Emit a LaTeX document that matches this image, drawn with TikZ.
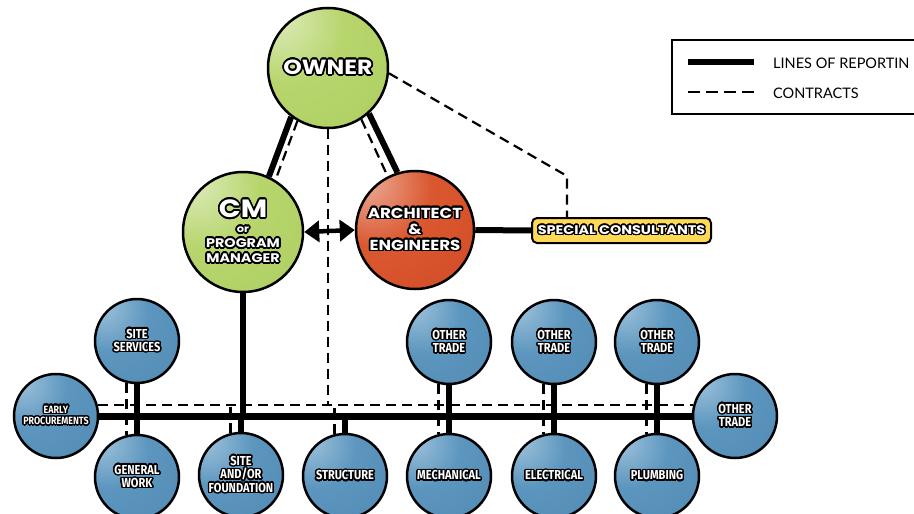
\documentclass[tikz,border=0pt]{standalone}
\usepackage{fontspec}
\setmainfont{Lato}
\newfontfamily\bigfont[FakeStretch=1.15]{Poppins}
\newfontfamily\tradefont[FakeStretch=0.85]{Fira Sans}
\usepackage{contour}
\contournumber{24}
\usetikzlibrary{arrows.meta}
\pgfdeclarelayer{bg}
\pgfsetlayers{bg,main}
\definecolor{gHi}{RGB}{222,236,190}
\definecolor{gBase}{RGB}{183,213,108}
\definecolor{gEdge}{RGB}{170,204,94}
\definecolor{oHi}{RGB}{236,175,155}
\definecolor{oBase}{RGB}{218,88,48}
\definecolor{oEdge}{RGB}{206,70,34}
\definecolor{bHi}{RGB}{160,195,220}
\definecolor{bBase}{RGB}{92,150,190}
\definecolor{bEdge}{RGB}{78,133,176}
\definecolor{yFill}{RGB}{255,217,84}
\pgfdeclareradialshading{gball}{\pgfpoint{-22bp}{22bp}}{color(0bp)=(gHi); color(24bp)=(gBase); color(65bp)=(gEdge); color(110bp)=(gEdge)}
\pgfdeclareradialshading{oball}{\pgfpoint{-22bp}{22bp}}{color(0bp)=(oHi); color(24bp)=(oBase); color(65bp)=(oEdge); color(110bp)=(oEdge)}
\pgfdeclareradialshading{bball}{\pgfpoint{-22bp}{22bp}}{color(0bp)=(bHi); color(24bp)=(bBase); color(65bp)=(bEdge); color(110bp)=(bEdge)}
\newcommand\olt[1]{\contour{black}{#1}}
\begin{document}
\begin{tikzpicture}[x=1pt,y=-1pt,
  ball/.style={circle, draw=black, line width=2.5pt, inner sep=0pt, text=white, align=center},
  gnode/.style={ball, shading=gball, minimum size=120pt, font=\bigfont\bfseries\fontsize{12.5}{15}\selectfont},
  onode/.style={ball, shading=oball, minimum size=118pt, font=\bigfont\bfseries\fontsize{14.5}{16}\selectfont},
  tnode/.style={ball, shading=bball, minimum size=84pt, font=\tradefont\bfseries\fontsize{13}{13.5}\selectfont},
  scbox/.style={draw=black, line width=2pt, fill=yFill, rounded corners=5pt, minimum width=179pt, minimum height=25pt, inner sep=0pt, text=white, font=\bigfont\bfseries\fontsize{12.5}{13}\selectfont},
  rep/.style={line width=6pt},
  busline/.style={line width=7pt},
  con/.style={line width=2.2pt, dash pattern=on 10pt off 6pt},
  legtxt/.style={anchor=west, inner sep=0pt, font=\fontsize{14.5}{16}\selectfont},
  twoway/.style={line width=4.5pt, {Triangle[length=15pt,width=21pt]}-{Triangle[length=15pt,width=21pt]}}
]
\useasboundingbox (0,0) rectangle (914,514);
\clip (0,0) rectangle (914,514);

% legend
\draw[line width=1.2pt] (672,40) rectangle (940,114);
\draw[line width=5.5pt] (688,62) -- (754,62);
\draw[line width=2.2pt, dash pattern=on 12pt off 6pt] (688,92) -- (754,92);
\node[legtxt] (l1) at (773,63) {LINES OF REPORTIN};
\node[legtxt] (l2) at (773,93) {CONTRACTS};

% main nodes
\contourlength{1.6pt}
\node[gnode] (owner) at (328,68) {{\fontsize{20.5}{20}\selectfont\olt{OWNER}}};
\node[gnode] (cm) at (243,232) {{\fontsize{25}{24}\selectfont\olt{CM}}\\{\fontsize{10}{10}\selectfont\olt{or}}\\\olt{PROGRAM}\\\olt{MANAGER}};
\node[onode] (arch) at (415,230) {\olt{ARCHITECT}\\\olt{\&}\\\olt{ENGINEERS}};
\contourlength{1.3pt}
\node[scbox] (sc) at (621.5,230.5) {\olt{SPECIAL CONSULTANTS}};

% trade nodes
\contourlength{1.4pt}
\node[tnode] (ss) at (137,341) {\olt{SITE}\\\olt{SERVICES}};
\node[tnode, font=\tradefont\bfseries\fontsize{10.5}{11.5}\selectfont] (ep) at (56,416) {\olt{EARLY}\\\olt{PROCUREMENTS}};
\node[tnode] (gw) at (137,477) {\olt{GENERAL}\\\olt{WORK}};
\node[tnode] (sf) at (241,475) {\olt{SITE}\\\olt{AND/OR}\\\olt{FOUNDATION}};
\node[tnode] (st) at (345,476) {\olt{STRUCTURE}};
\node[tnode] (me) at (449,476) {\olt{MECHANICAL}};
\node[tnode] (el) at (554,476) {\olt{ELECTRICAL}};
\node[tnode] (pl) at (657,476) {\olt{PLUMBING}};
\node[tnode] (ot1) at (449,342) {\olt{OTHER}\\\olt{TRADE}};
\node[tnode] (ot2) at (554,342) {\olt{OTHER}\\\olt{TRADE}};
\node[tnode] (ot3) at (657,342) {\olt{OTHER}\\\olt{TRADE}};
\node[tnode] (ot4) at (735,416) {\olt{OTHER}\\\olt{TRADE}};

\begin{pgfonlayer}{bg}
% owner links
\draw[rep] (owner.-127) -- (cm.65);
\draw[con] (owner.-120) -- (cm.58);
\draw[rep] (owner.-48) -- (arch.107);
\draw[con] (owner.-57) -- (arch.117);
\coordinate (corner) at (567,176);
\draw[con] (owner.-5) -- (corner) -- (corner |- sc.north);
\draw[con] (owner.south) -- (owner.south |- ep.15);
% cm <-> arch
\draw[twoway] (cm.east) -- (arch.west);
\draw[rep] (arch.east) -- (sc.west);
% cm down
\draw[rep] (cm.south) -- (cm.south |- ep.east);
% buses
\draw[busline] (ep.east) -- (ot4.west);
\draw[con] (ep.15) -- (ot4.165);
% verticals
\draw[rep] (ss) -- (gw);
\draw[rep] (ot1) -- (me);
\draw[rep] (ot2) -- (el);
\draw[rep] (ot3) -- (pl);
\draw[rep] (sf.north) -- (sf.north |- ep.east);
\draw[rep] (st.north) -- (st.north |- ep.east);
\draw[con] (ss.-104) -- (gw.104);
\draw[con] (ot1.-104) -- (me.104);
\draw[con] (ot2.-104) -- (el.104);
\draw[con] (ot3.-104) -- (pl.104);
\draw[con] (sf.104) -- (sf.104 |- ep.15);
\draw[con] (st.104) -- (st.104 |- ep.15);
\end{pgfonlayer}
\end{tikzpicture}
\end{document}
